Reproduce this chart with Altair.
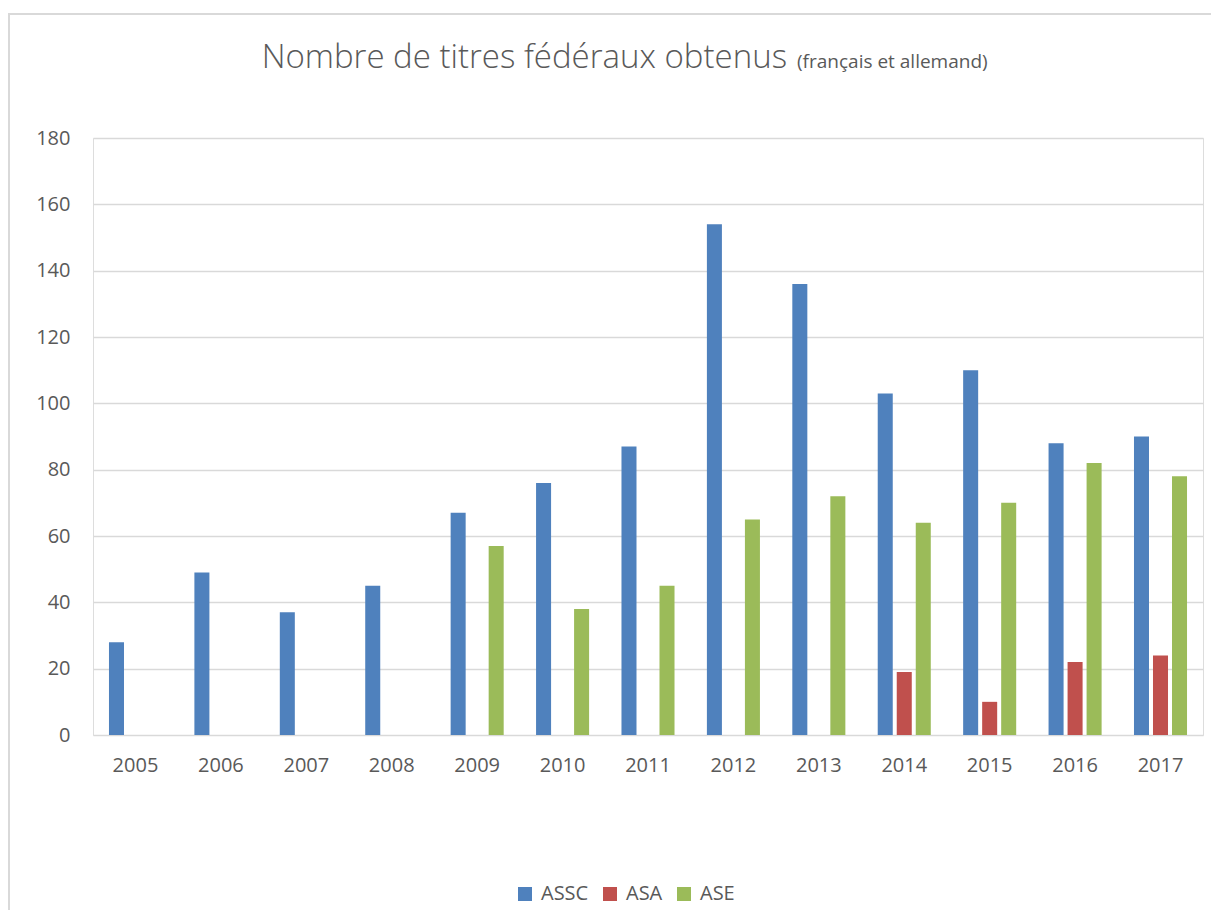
import altair as alt
import pandas as pd

years = ["2005", "2006", "2007", "2008", "2009", "2010", "2011", "2012", "2013", "2014", "2015", "2016", "2017"]
series = ["ASSC", "ASA", "ASE"]
assc = [28, 49, 37, 45, 67, 76, 87, 154, 136, 103, 110, 88, 90]
asa = [None, None, None, None, None, None, None, None, None, 19, 10, 22, 24]
ase = [None, None, None, None, 57, 38, 45, 65, 72, 64, 70, 82, 78]
colors = ["#4F81BD", "#C0504D", "#9BBB59"]

rows = []
for i, y in enumerate(years):
    for s, vals in zip(series, [assc, asa, ase]):
        if vals[i] is not None:
            rows.append({"year": y, "serie": s, "value": vals[i]})
df = pd.DataFrame(rows)

W, H = 1110, 597
txt = "#595959"

bars = alt.Chart(df).mark_bar().encode(
    x=alt.X("year:N", sort=years, scale=alt.Scale(domain=years, paddingInner=0.379, paddingOuter=0.187),
            axis=alt.Axis(title=None, labelAngle=0, labelFontSize=20, labelColor=txt, labelFont="Open Sans",
                          labelPadding=20, ticks=False, domain=False, grid=False)),
    xOffset=alt.XOffset("serie:N", sort=series, scale=alt.Scale(domain=series, paddingInner=0.21, paddingOuter=0)),
    y=alt.Y("value:Q", scale=alt.Scale(domain=[0, 180], nice=False),
            axis=alt.Axis(title=None, values=list(range(0, 181, 20)), labelFontSize=20, labelColor=txt,
                          labelFont="Open Sans", labelPadding=23, ticks=False, domain=False,
                          gridColor="#D9D9D9", gridWidth=1.5)),
    color=alt.Color("serie:N", sort=series, scale=alt.Scale(domain=series, range=colors),
                    legend=alt.Legend(title=None, orient="none", direction="horizontal", legendX=422, legendY=746,
                                      symbolType="square", symbolSize=196, symbolStrokeWidth=0,
                                      labelFontSize=20, labelColor=txt, labelFont="Open Sans",
                                      labelOffset=6, columnPadding=11, symbolOffset=0)),
)

title_main = alt.Chart(pd.DataFrame({"t": ["Nombre de titres fédéraux obtenus"]})).mark_text(
    align="right", baseline="middle", fontSize=33, font="Open Sans", fontWeight=300, color=txt
).encode(text="t:N", x=alt.value(694), y=alt.value(-80))

title_sub = alt.Chart(pd.DataFrame({"t": ["(français et allemand)"]})).mark_text(
    align="left", baseline="middle", fontSize=19, font="Open Sans", color=txt
).encode(text="t:N", x=alt.value(704), y=alt.value(-76))

border = alt.Chart(pd.DataFrame({"a": [0]})).mark_rule(color="#D9D9D9", strokeWidth=2).encode(
    x=alt.value(-85), x2=alt.value(W + 130), y=alt.value(-124)
)
border_l = alt.Chart(pd.DataFrame({"a": [0]})).mark_rule(color="#D9D9D9", strokeWidth=2).encode(
    x=alt.value(-84), y=alt.value(-124), y2=alt.value(H + 200)
)

chart = alt.layer(border, border_l, bars, title_main, title_sub).properties(
    width=W, height=H,
    autosize=alt.AutoSizeParams(type="none"),
    padding={"left": 85, "top": 130, "right": 8, "bottom": 175},
).configure_view(strokeWidth=0).configure(background="white")

chart.save("out.html", embed_options={"renderer": "svg", "actions": False})
